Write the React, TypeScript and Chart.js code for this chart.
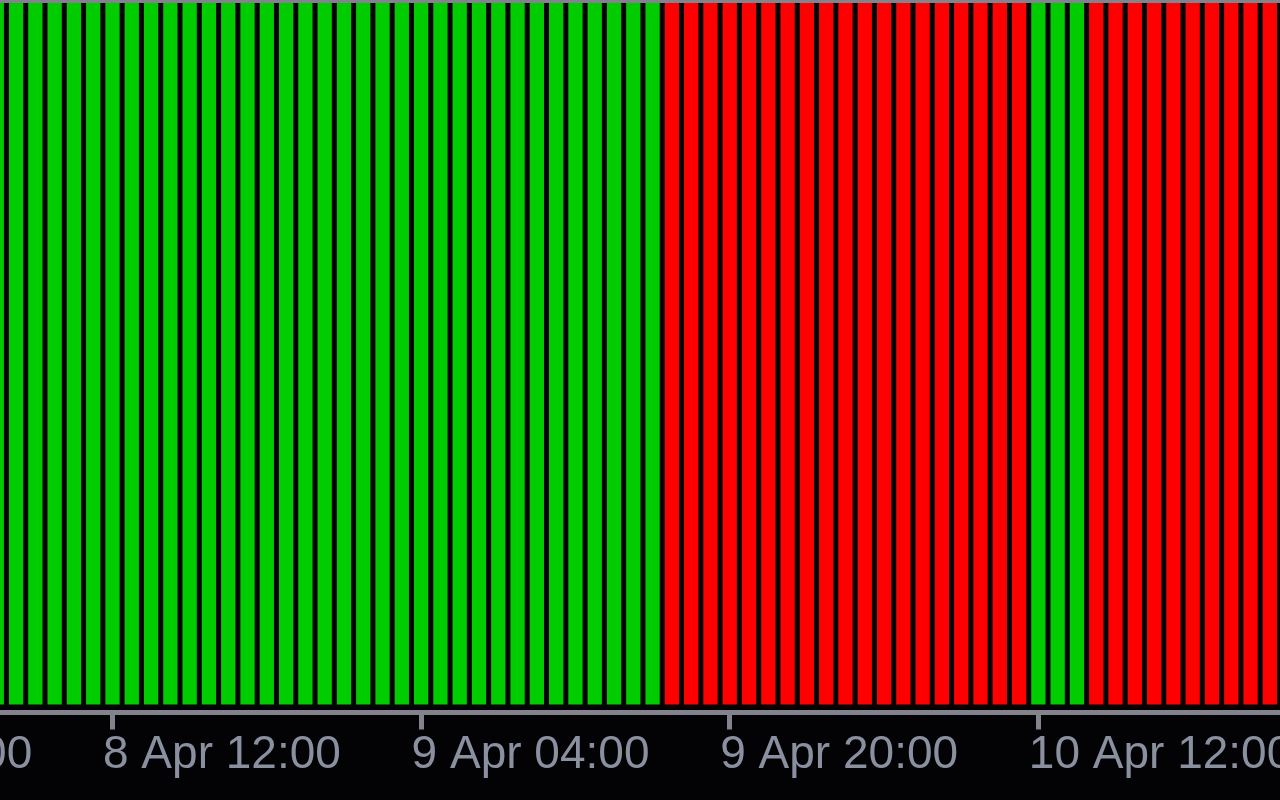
import React, { useEffect, useRef } from "react";
import { Chart, registerables } from "chart.js";

Chart.register(...registerables);

// Hours counted from 8 Apr 00:00, one bar per hour
const BAR_HOURS = [
  6, 7, 8, 9, 10, 11, 12, 13, 14, 15, 16, 17, 18, 19, 20, 21, 22, 23,
  24, 25, 26, 27, 28, 29, 30, 31, 32, 33, 34, 35, 36, 37, 38, 39, 40, 41,
  42, 43, 44, 45, 46, 47, 48, 49, 50, 51, 52, 53, 54, 55, 56, 57, 58, 59,
  60, 61, 62, 63, 64, 65, 66, 67, 68, 69, 70, 71, 72,
];
const BAR_VALUES = [
  1, 1, 1, 1, 1, 1, 1, 1, 1, 1, 1, 1, 1, 1, 1, 1, 1, 1,
  1, 1, 1, 1, 1, 1, 1, 1, 1, 1, 1, 1, 1, 1, 1, 1, 1, 1,
  1, 1, 1, 1, 1, 1, 1, 1, 1, 1, 1, 1, 1, 1, 1, 1, 1, 1,
  1, 1, 1, 1, 1, 1, 1, 1, 1, 1, 1, 1, 1,
];
const BAR_TREND = [
  "up", "up", "up", "up", "up", "up", "up", "up", "up", "up", "up", "up", "up", "up", "up", "up", "up", "up",
  "up", "up", "up", "up", "up", "up", "up", "up", "up", "up", "up", "up", "up", "up", "up", "up", "up", "down",
  "down", "down", "down", "down", "down", "down", "down", "down", "down", "down", "down", "down", "down", "down", "down", "down", "down", "down",
  "up", "up", "up", "down", "down", "down", "down", "down", "down", "down", "down", "down", "down",
];
const TICK_HOURS = [-4, 12, 28, 44, 60];
const TICK_LABELS = ["7 Apr 20:00", "8 Apr 12:00", "9 Apr 04:00", "9 Apr 20:00", "10 Apr 12:00"];

const X_MIN = 6.1676;
const X_MAX = 72.527;

const UP_COLOR = "#00cc00";
const DOWN_COLOR = "#ff0000";
const AXIS_COLOR = "#83838d";
const LABEL_COLOR = "#8a90a0";
const BG = "#030305";

export default function App() {
  const ref = useRef<HTMLCanvasElement | null>(null);

  useEffect(() => {
    document.body.style.margin = "0";
    document.body.style.background = BG;
    const canvas = ref.current;
    if (!canvas) return;
    const chart = new Chart(canvas, {
      type: "bar",
      data: {
        datasets: [
          {
            data: BAR_HOURS.map((h, i) => ({ x: h, y: BAR_VALUES[i] })),
            backgroundColor: BAR_TREND.map((t) => (t === "up" ? UP_COLOR : DOWN_COLOR)),
            borderWidth: 0,
            categoryPercentage: 1,
            barPercentage: 0.74,
            xAxisID: "x",
            yAxisID: "y",
          },
        ],
      },
      options: {
        animation: false,
        responsive: true,
        maintainAspectRatio: false,
        layout: { padding: { left: 0, right: 0, top: 0, bottom: 19.5 }, autoPadding: false },
        plugins: { legend: { display: false }, tooltip: { enabled: false } },
        scales: {
          x: {
            type: "linear",
            position: "bottom",
            min: X_MIN,
            max: X_MAX,
            offset: false,
            afterBuildTicks: (scale: any) => {
              scale.ticks = TICK_HOURS.map((v) => ({ value: v }));
            },
            afterFit: (scale: any) => {
              scale.paddingLeft = 0;
              scale.paddingRight = 0;
            },
            grid: {
              display: true,
              offset: false,
              drawOnChartArea: false,
              drawTicks: true,
              tickLength: 17.5,
              tickWidth: 5,
              tickColor: AXIS_COLOR,
              lineWidth: 5,
              color: AXIS_COLOR,
            },
            border: { display: true, color: AXIS_COLOR, width: 5, z: 1 },
            ticks: {
              autoSkip: false,
              maxRotation: 0,
              minRotation: 0,
              align: "start",
              labelOffset: -9.5,
              padding: 2.5,
              color: LABEL_COLOR,
              font: { family: "'Liberation Sans', Arial, sans-serif", size: 46, lineHeight: 1 },
              callback: (_v: any, i: number) => TICK_LABELS[i],
            },
          },
          x2: {
            type: "linear",
            position: "top",
            display: true,
            min: X_MIN,
            max: X_MAX,
            afterFit: (scale: any) => {
              scale.paddingLeft = 0;
              scale.paddingRight = 0;
            },
            grid: { display: false, drawTicks: false, drawOnChartArea: false },
            ticks: { display: false },
            border: { display: true, color: AXIS_COLOR, width: 6, z: 1 },
          },
          y: {
            display: false,
            min: -0.010608,
            max: 1,
          },
        },
      },
    });
    return () => chart.destroy();
  }, []);

  return (
    <div style={{ position: "fixed", left: 0, top: 0, width: 1280, height: 800, background: BG }}>
      <canvas ref={ref} />
    </div>
  );
}
